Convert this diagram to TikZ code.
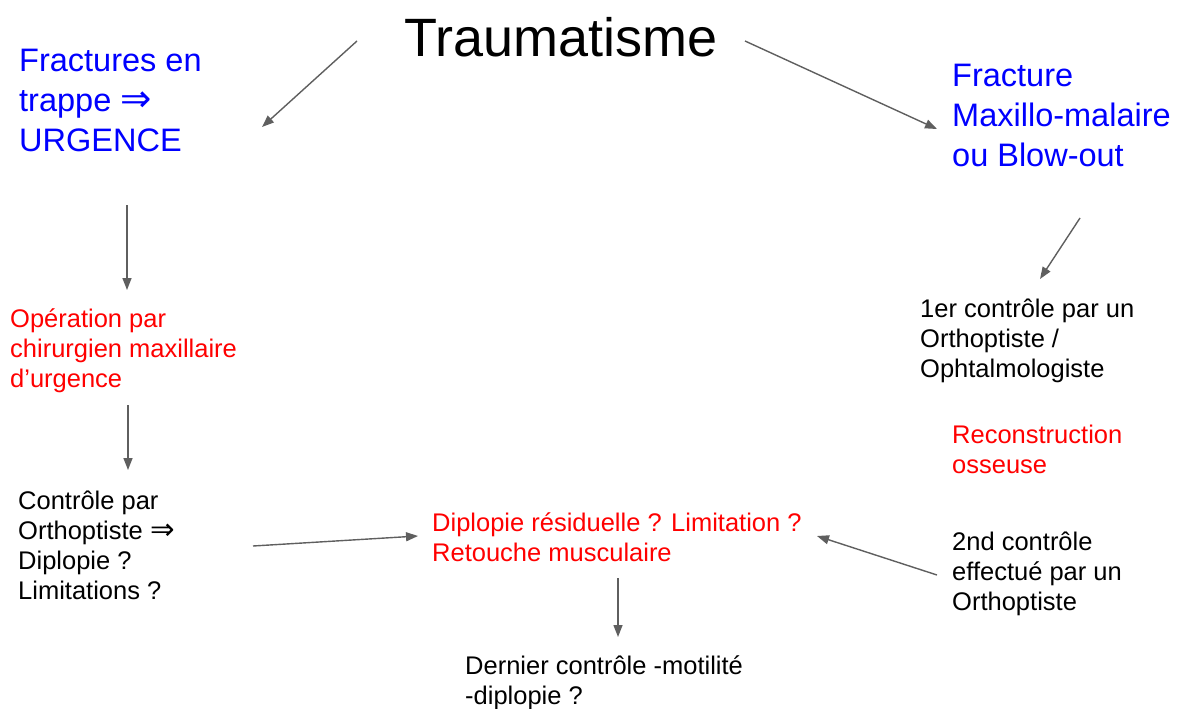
\documentclass[tikz,border=0pt]{standalone}
\usepackage{fontspec}
\setmainfont{Liberation Sans}
\newfontfamily\symbfont[Scale=1.15]{DejaVu Sans}
\usetikzlibrary{arrows.meta}
\definecolor{slideblue}{RGB}{0,0,255}
\definecolor{slidered}{RGB}{255,0,0}
\definecolor{arrowgray}{RGB}{95,95,95}
\newcommand{\implies}{{\symbfont ⇒}}

\begin{document}
\begin{tikzpicture}[x=1pt,y=-1pt,
  arr/.style={->,>={Triangle[length=12pt,width=9pt]},draw=arrowgray,line width=1.4pt},
  txt/.style={inner sep=0pt,anchor=base west,align=left},
  title/.style={txt,font=\fontsize{54}{62}\selectfont},
  head/.style={txt,text=slideblue,font=\fontsize{32.5}{40}\selectfont},
  body/.style={txt,font=\fontsize{25.5}{30}\selectfont},
  act/.style={body,text=slidered}]
  \useasboundingbox (0,0) rectangle (1183,709);
  % nodes sit on the baseline of their last line
  \node[title] (trauma) at (404,57) {Traumatisme};
  \node[head] (trappe) at (19,151) {Fractures en\\trappe \implies\\URGENCE};
  \node[head] (maxi) at (952,166) {Fracture\\Maxillo-malaire\\ou Blow-out};
  \node[act] (opera) at (10,387) {Opération par\\chirurgien maxillaire\\d’urgence};
  \node[body] (ctrl) at (18,599) {Contrôle par\\Orthoptiste \implies\\Diplopie ?\\Limitations ?};
  \node[act] (diplo) at (432,561) {Diplopie résiduelle ? Limitation ?\\Retouche musculaire};
  \node[body] (dernier) at (465,704) {Dernier contrôle -motilité\\-diplopie ?};
  \node[body] (premier) at (920,377) {1er contrôle par un\\Orthoptiste /\\Ophtalmologiste};
  \node[act] (recon) at (952,473) {Reconstruction\\osseuse};
  \node[body] (second) at (952,610) {2nd contrôle\\effectué par un\\Orthoptiste};
  % arrows
  \draw[arr] ([shift={(-47,-16)}]trauma.base west) -- ([shift={(243,-24)}]trappe.base west);
  \draw[arr] ([shift={(341,-16)}]trauma.base west) -- ([shift={(-15,-37)}]maxi.base west);
  \draw[arr] ([shift={(108,54)}]trappe.base west) -- ([shift={(117,-97)}]opera.base west);
  \draw[arr] ([shift={(118,18)}]opera.base west) -- ([shift={(110,-129)}]ctrl.base west);
  \draw[arr] ([shift={(235,-53)}]ctrl.base west) -- ([shift={(-14,-25)}]diplo.base west);
  \draw[arr] ([shift={(186,17)}]diplo.base west) -- ([shift={(153,-67)}]dernier.base west);
  \draw[arr] ([shift={(-15,-35)}]second.base west) -- ([shift={(385,-25)}]diplo.base west);
  \draw[arr] ([shift={(128,52)}]maxi.base west) -- ([shift={(120,-98)}]premier.base west);
\end{tikzpicture}
\end{document}
